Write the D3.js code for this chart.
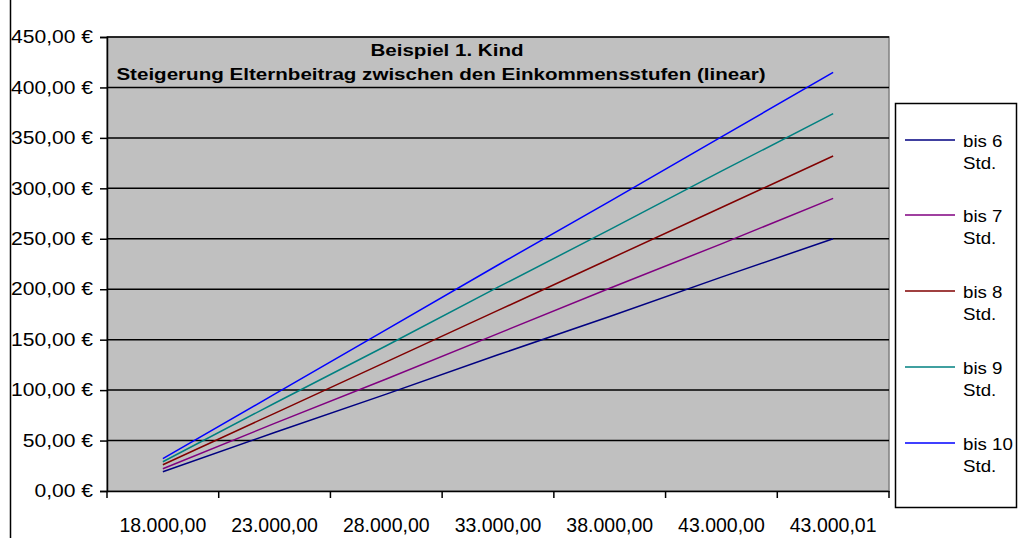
<!DOCTYPE html>
<html><head><meta charset="utf-8">
<script src="https://cdn.jsdelivr.net/npm/d3@7"></script>
<style>body{margin:0;background:#fff}svg{display:block;font-family:"Liberation Sans",Arial,sans-serif}</style>
</head><body><svg id="c" width="1020" height="538"></svg>
<script>
const categories = ["18.000,00","23.000,00","28.000,00","33.000,00","38.000,00","43.000,00","43.000,01"];
const seriesNames = ["bis 6 Std.","bis 7 Std.","bis 8 Std.","bis 9 Std.","bis 10 Std."];
const bis6  = [19, 58, 96, 135, 173, 212, 250];
const bis7  = [22, 67, 111, 156, 201, 245, 290];
const bis8  = [26, 77, 128, 179, 230, 281, 332];
const bis9  = [29, 87, 144, 202, 259, 317, 374];
const bis10 = [32, 96, 160, 224, 287, 351, 415];
const yTicks = [0,50,100,150,200,250,300,350,400,450];
const colors = ["#000080","#800080","#800000","#008080","#0000FF"];
const titleLines = ["Beispiel 1. Kind","Steigerung Elternbeitrag zwischen den Einkommensstufen (linear)"];

const series = [bis6,bis7,bis8,bis9,bis10];
const svg = d3.select("#c");
const L=107,R=889,T=37,B=491;
const x = d3.scaleBand().domain(categories).range([L,R]);
const y = d3.scaleLinear().domain([0,450]).range([B,T]);

function stretch(sel, f){
  sel.each(function(){
    const w = this.getComputedTextLength();
    this.setAttribute("textLength", (w*f).toFixed(1));
    this.setAttribute("lengthAdjust","spacingAndGlyphs");
  });
}

// outer left border
svg.append("line").attr("x1",10.5).attr("x2",10.5).attr("y1",0).attr("y2",538).attr("stroke","#000").attr("stroke-width",1.5);

svg.append("rect").attr("x",L).attr("y",T).attr("width",R-L).attr("height",B-T)
  .attr("fill","#C0C0C0").attr("stroke","#808080").attr("stroke-width",1.5);

// gridlines
svg.append("g").selectAll("line").data(yTicks.filter(d=>d>0)).join("line")
  .attr("x1",L).attr("x2",R).attr("y1",d=>y(d)).attr("y2",d=>y(d))
  .attr("stroke","#000").attr("stroke-width",1.5);

// y axis
const ya = svg.append("g").attr("transform",`translate(${L},0)`)
  .call(d3.axisLeft(y).tickValues(yTicks).tickSize(7).tickPadding(7)
     .tickFormat(d=>d3.format(".2f")(d).replace(".",",")+" €"));
ya.select(".domain").attr("stroke","#000").attr("stroke-width",1.5);
ya.selectAll(".tick line").attr("stroke","#000").attr("stroke-width",1.5);
ya.selectAll("text").attr("font-size",18).attr("fill","#000").attr("font-family","Liberation Sans, Arial, sans-serif");
stretch(ya.selectAll("text"), 1.17);

// x axis
const xa = svg.append("g").attr("transform",`translate(0,${B})`)
  .call(d3.axisBottom(x).tickSize(0).tickPadding(27));
xa.select(".domain").attr("stroke","#000").attr("stroke-width",1.5);
xa.selectAll("text").attr("font-size",19.5).attr("fill","#000").attr("font-family","Liberation Sans, Arial, sans-serif");
svg.append("g").selectAll("line").data(categories.concat(["end"])).join("line")
  .attr("x1",(d,i)=>i<categories.length?x(d):R).attr("x2",(d,i)=>i<categories.length?x(d):R)
  .attr("y1",B).attr("y2",B+7).attr("stroke","#000").attr("stroke-width",1.5);

// lines
const line = d3.line().x((d,i)=>x(categories[i])+x.bandwidth()/2).y(d=>y(d));
svg.append("g").selectAll("path").data(series).join("path")
  .attr("d",line).attr("fill","none").attr("stroke",(d,i)=>colors[i]).attr("stroke-width",1.5);

// title
const tt = svg.append("g").selectAll("text").data(titleLines).join("text")
  .attr("font-weight","bold").attr("font-size",17).attr("text-anchor","middle")
  .attr("x",(d,i)=>i===0?447:441).attr("y",(d,i)=>i===0?56:80).text(d=>d);
stretch(tt, 1.21);

// legend
const lg = svg.append("g");
lg.append("rect").attr("x",895.5).attr("y",103.5).attr("width",121).attr("height",404)
  .attr("fill","#fff").attr("stroke","#000").attr("stroke-width",1.5);
const ly = [140,215,291,367,443];
seriesNames.forEach((n,i)=>{
  lg.append("line").attr("x1",905).attr("x2",955).attr("y1",ly[i]).attr("y2",ly[i])
    .attr("stroke",colors[i]).attr("stroke-width",1.5);
  const parts = n.split(" ");
  const t1 = lg.append("text").attr("font-size",17).attr("fill","#000")
    .attr("x",963).attr("y",ly[i]+7).text(parts[0]+" "+parts[1]);
  const t2 = lg.append("text").attr("font-size",17).attr("fill","#000")
    .attr("x",963).attr("y",ly[i]+29).text(parts[2]);
  stretch(t1,1.1); stretch(t2,1.1);
});
</script></body></html>
